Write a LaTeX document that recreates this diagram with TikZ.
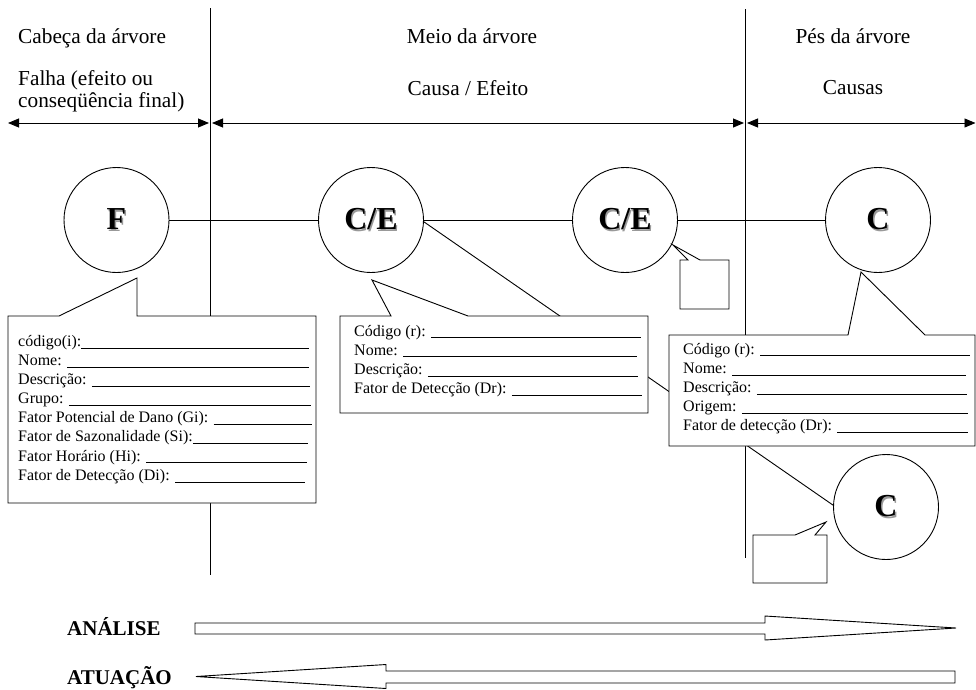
\documentclass[tikz,border=0pt]{standalone}
\usepackage{fontspec}
\setmainfont{Liberation Serif}
\usetikzlibrary{arrows.meta}

% label followed by a blank line to be filled in, ending at a given width
\newcommand\fldline[2]{\makebox[#2pt][l]{#1\leaders\hrule height -1.3pt depth 2.1pt\hfill}}
% bold letters with a soft grey offset copy behind them
\newcommand\embossed[1]{\makebox[0pt][l]{\hspace{1.3pt}\raisebox{-1.3pt}{\textcolor{black!40}{#1}}}#1}

\begin{document}
\begin{tikzpicture}[x=1pt,y=-1pt,
  ln/.style={line width=0.9pt},
  hdr/.style={font=\fontsize{21.3}{25}\selectfont, inner sep=0},
  span/.style={line width=0.9pt, {Triangle[length=11pt,width=9pt]}-{Triangle[length=11pt,width=9pt]}},
  ev/.style={circle, draw, fill=white, line width=0.9pt, minimum size=105pt, inner sep=0,
             font=\bfseries\fontsize{32}{36}\selectfont},
  callout/.style={draw, fill=white, line width=0.9pt, line join=miter},
  fld/.style={font=\fontsize{16}{19}\selectfont, anchor=base west, inner sep=0},
  dirlabel/.style={font=\bfseries\fontsize{21}{24}\selectfont, anchor=base west, inner sep=0},
  bigarrow/.style={draw, fill=white, line width=0.9pt, line join=miter}]

\useasboundingbox (0,0) rectangle (976,689);

% ---- zone dividers
\coordinate (v1t) at (210,8);  \coordinate (v1b) at (210,575);
\coordinate (v2t) at (745,9);  \coordinate (v2b) at (745,558);
\draw[ln] (v1t) -- (v1b);
\draw[ln] (v2t) -- (v2b);

% ---- zone headings
\node[hdr, anchor=base west] (h1) at (18,43) {Cabeça da árvore};
\node[hdr, anchor=base west] (h1a) at (18,85) {Falha (efeito ou};
\node[hdr, anchor=base west] (h1b) at (18,107) {conseqüência final)};
\node[hdr, anchor=base] (h2) at (472,43) {Meio da árvore};
\node[hdr, anchor=base] (h2a) at (468,95) {Causa / Efeito};
\node[hdr, anchor=base] (h3) at (853,43) {Pés da árvore};
\node[hdr, anchor=base] (h3a) at (853,94) {Causas};

% ---- zone extents
\coordinate (s1l) at (8,123);   \coordinate (s1r) at (209,123);
\coordinate (s2l) at (212,123); \coordinate (s2r) at (744,123);
\coordinate (s3l) at (747,123); \coordinate (s3r) at (975.5,123);
\draw[span] (s1l) -- (s1r);
\draw[span] (s2l) -- (s2r);
\draw[span] (s3l) -- (s3r);

% ---- events of the tree
\node[ev] (F)   at (116.5,220) {\embossed{F}};
\node[ev] (ce1) at (371,220)   {\embossed{C/E}};
\node[ev] (ce2) at (625,220)   {\embossed{C/E}};
\node[ev] (c1)  at (878,220)   {\embossed{C}};
\node[ev] (c2)  at (886,507)   {\embossed{C}};

\draw[ln] (F) -- (ce1);
\draw[ln] (ce1) -- (ce2);
\draw[ln] (ce2) -- (c1);
\draw[ln] (ce1.-2) -- (c2.178);

% ---- callout of the failure
\draw[callout] (8,316) -- (59,316) -- (137,278) -- (137,316) -- (316,316)
  -- (316,503) -- (8,503) -- cycle;
\node[fld] (f1) at (18,346.7) {\fldline{código(i):}{291}};
\node[fld] (f2) at (18,365.7) {\fldline{Nome: }{291}};
\node[fld] (f3) at (18,384.5) {\fldline{Descrição: }{292}};
\node[fld] (f4) at (18,403.4) {\fldline{Grupo: }{293}};
\node[fld] (f5) at (18,422.6) {\fldline{Fator Potencial de Dano (Gi): }{294}};
\node[fld] (f6) at (18,441.7) {\fldline{Fator de Sazonalidade (Si):}{290}};
\node[fld] (f7) at (18,461)   {\fldline{Fator Horário (Hi): }{289}};
\node[fld] (f8) at (18,480.5) {\fldline{Fator de Detecção (Di): }{287}};

% ---- callout of the cause/effect
\draw[callout] (340,316) -- (391,316) -- (372,280) -- (468,316) -- (648,316)
  -- (648,413) -- (340,413) -- cycle;
\node[fld] (e1) at (354,336)   {\fldline{Código (r): }{287}};
\node[fld] (e2) at (354,355)   {\fldline{Nome: }{283}};
\node[fld] (e3) at (354,374.3) {\fldline{Descrição: }{284}};
\node[fld] (e4) at (354,393.3) {\fldline{Fator de Detecção (Dr): }{288}};

% ---- callout of the cause
\draw[callout] (669,335) -- (848,335) -- (861,272) -- (925,335) -- (975,335)
  -- (975,446) -- (669,446) -- cycle;
\node[fld] (k1) at (683,354)   {\fldline{Código (r): }{287}};
\node[fld] (k2) at (683,373.3) {\fldline{Nome: }{283}};
\node[fld] (k3) at (683,392.3) {\fldline{Descrição: }{284}};
\node[fld] (k4) at (683,411.7) {\fldline{Origem: }{285}};
\node[fld] (k5) at (683,430.7) {\fldline{Fator de detecção (Dr): }{285}};

% ---- empty callouts
\draw[callout] (680,260) -- (688,260) -- (673,245) -- (700,260) -- (729,260)
  -- (729,309) -- (680,309) -- cycle;
\draw[callout] (753,535) -- (795,535) -- (826,522) -- (815,535) -- (827,535)
  -- (827,583) -- (753,583) -- cycle;

% ---- direction of analysis and of action
\node[dirlabel] (an) at (67,635) {ANÁLISE};
\node[dirlabel] (at) at (67,684) {ATUAÇÃO};
\draw[bigarrow] (195,623) -- (765,623) -- (765,616) -- (956,628) -- (765,640)
  -- (765,634) -- (195,634) -- cycle;
\draw[bigarrow] (955,671) -- (386,671) -- (386,664.5) -- (196,676.5) -- (386,688.5)
  -- (386,683) -- (955,683) -- cycle;
\end{tikzpicture}
\end{document}
